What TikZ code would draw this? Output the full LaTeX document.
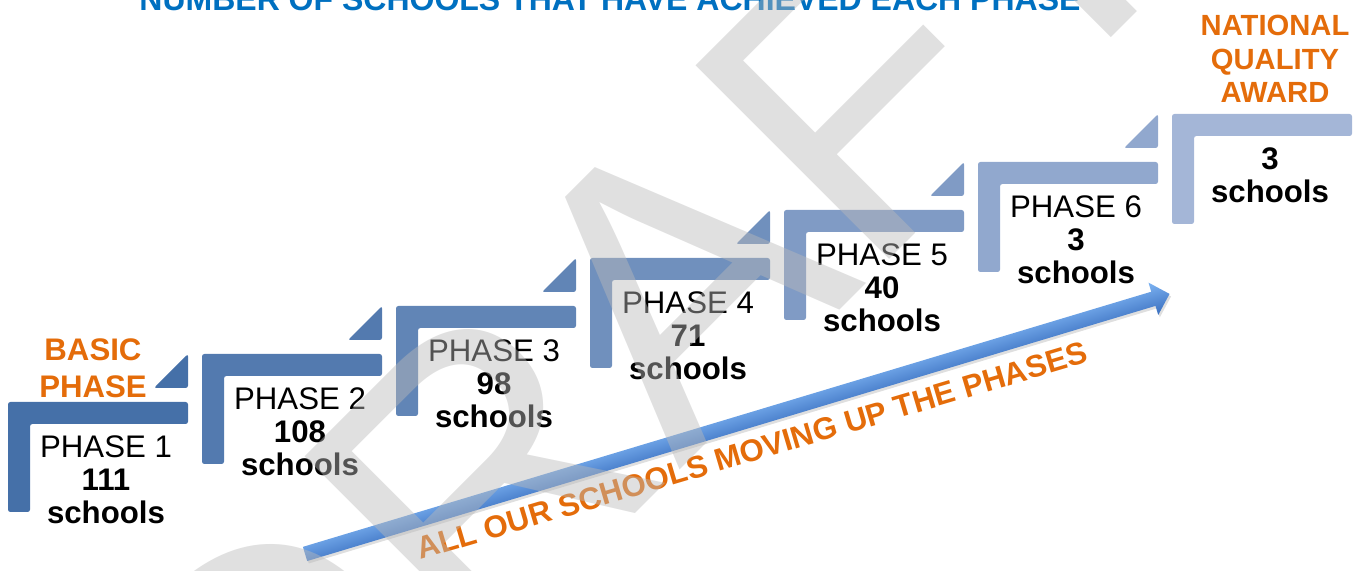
\documentclass[tikz,border=0pt]{standalone}
\usepackage{fontspec}
\setmainfont{Liberation Sans}
\usetikzlibrary{shapes.arrows,shadows}

\definecolor{titleblue}{HTML}{0070C0}
\definecolor{labelorange}{HTML}{E46C0A}
\definecolor{stepdark}{HTML}{4570A8}
\definecolor{steplight}{HTML}{A4B6D7}
\colorlet{stepA}{steplight!0!stepdark}
\colorlet{stepB}{steplight!15!stepdark}
\colorlet{stepC}{steplight!30!stepdark}
\colorlet{stepD}{steplight!45!stepdark}
\colorlet{stepE}{steplight!62!stepdark}
\colorlet{stepF}{steplight!80!stepdark}
\colorlet{stepG}{steplight!100!stepdark}
\definecolor{arrowtop}{HTML}{7DB3F2}
\definecolor{arrowmid}{HTML}{5290E0}
\definecolor{arrowbottom}{HTML}{3A6FBF}

\begin{document}
\begin{tikzpicture}
        [
            x = 0.5pt, y = -0.5pt,
            stepbar/.style = {rounded corners=1.2pt},
            stepcount/.style = {anchor=north, align=center, inner sep=0pt,
                font=\fontsize{15.6}{16.5}\selectfont},
            milestone/.style = {anchor=north, align=center, inner sep=0pt,
                text=labelorange, font=\bfseries\fontsize{15.6}{18.5}\selectfont},
            flowarrow/.style = {single arrow, single arrow head extend=4.75pt,
                single arrow head indent=0pt, inner xsep=0pt, inner ysep=3.5pt,
                top color=arrowtop, middle color=arrowmid, bottom color=arrowbottom,
                drop shadow={opacity=0.25, shadow xshift=0.4pt, shadow yshift=-1.4pt}},
        ]
        \useasboundingbox (0,0) rectangle (1361,571);

        \node (title) [anchor=base, inner sep=0pt, text=titleblue,
            font=\bfseries\fontsize{16}{19}\selectfont] at (610,11)
            {NUMBER OF SCHOOLS THAT HAVE ACHIEVED EACH PHASE};

        % phase 1
        \fill[stepA, stepbar] (8,402) -- ++(180,0) -- ++(0,22) -- ++(-158,0) -- ++(0,88) -- ++(-22,0) -- cycle;
        \fill[stepA, stepbar] (154,388) -- ++(34,0) -- ++(0,-34) -- cycle;
        % phase 2
        \fill[stepB, stepbar] (202,354) -- ++(180,0) -- ++(0,22) -- ++(-158,0) -- ++(0,88) -- ++(-22,0) -- cycle;
        \fill[stepB, stepbar] (348,340) -- ++(34,0) -- ++(0,-34) -- cycle;
        % phase 3
        \fill[stepC, stepbar] (396,306) -- ++(180,0) -- ++(0,22) -- ++(-158,0) -- ++(0,88) -- ++(-22,0) -- cycle;
        \fill[stepC, stepbar] (542,292) -- ++(34,0) -- ++(0,-34) -- cycle;
        % phase 4
        \fill[stepD, stepbar] (590,258) -- ++(180,0) -- ++(0,22) -- ++(-158,0) -- ++(0,88) -- ++(-22,0) -- cycle;
        \fill[stepD, stepbar] (736,244) -- ++(34,0) -- ++(0,-34) -- cycle;
        % phase 5
        \fill[stepE, stepbar] (784,210) -- ++(180,0) -- ++(0,22) -- ++(-158,0) -- ++(0,88) -- ++(-22,0) -- cycle;
        \fill[stepE, stepbar] (930,196) -- ++(34,0) -- ++(0,-34) -- cycle;
        % phase 6
        \fill[stepF, stepbar] (978,162) -- ++(180,0) -- ++(0,22) -- ++(-158,0) -- ++(0,88) -- ++(-22,0) -- cycle;
        \fill[stepF, stepbar] (1124,148) -- ++(34,0) -- ++(0,-34) -- cycle;
        % award
        \fill[stepG, stepbar] (1172,114) -- ++(180,0) -- ++(0,22) -- ++(-158,0) -- ++(0,88) -- ++(-22,0) -- cycle;

        \node (phase1) [stepcount] at (106,435) {PHASE 1\\\textbf{111}\\\textbf{schools}};
        \node (phase2) [stepcount] at (300,387) {PHASE 2\\\textbf{108}\\\textbf{schools}};
        \node (phase3) [stepcount] at (494,339) {PHASE 3\\\textbf{98}\\\textbf{schools}};
        \node (phase4) [stepcount] at (688,291) {PHASE 4\\\textbf{71}\\\textbf{schools}};
        \node (phase5) [stepcount] at (882,243) {PHASE 5\\\textbf{40}\\\textbf{schools}};
        \node (phase6) [stepcount] at (1076,195) {PHASE 6\\\textbf{3}\\\textbf{schools}};
        \node (award) [stepcount] at (1270,147) {\textbf{3}\\\textbf{schools}};

        \node (basic) [milestone] at (93,338) {BASIC\\PHASE};
        \node (national) [milestone, font=\bfseries\fontsize{14.6}{16.75}\selectfont]
            at (1275,15) {NATIONAL\\QUALITY\\AWARD};

        % moving up
        \begin{scope}[transform canvas={shift={(733.75,425)}, rotate=16.74}]
            \node (flow) [flowarrow, minimum height=451.4pt] at (0,0) {};
        \end{scope}
        \node (motto) [anchor=base, inner sep=0pt, rotate=16.5, text=labelorange,
            font=\bfseries\fontsize{15.6}{18}\selectfont] at (755,461)
            {ALL OUR SCHOOLS MOVING UP THE PHASES};

        % watermark
        \node (draft) [inner sep=0pt, rotate=45, text=black!27, text opacity=0.45,
            font=\fontsize{199}{204}\selectfont] at (645,311) {DRAFT};
\end{tikzpicture}
\end{document}
